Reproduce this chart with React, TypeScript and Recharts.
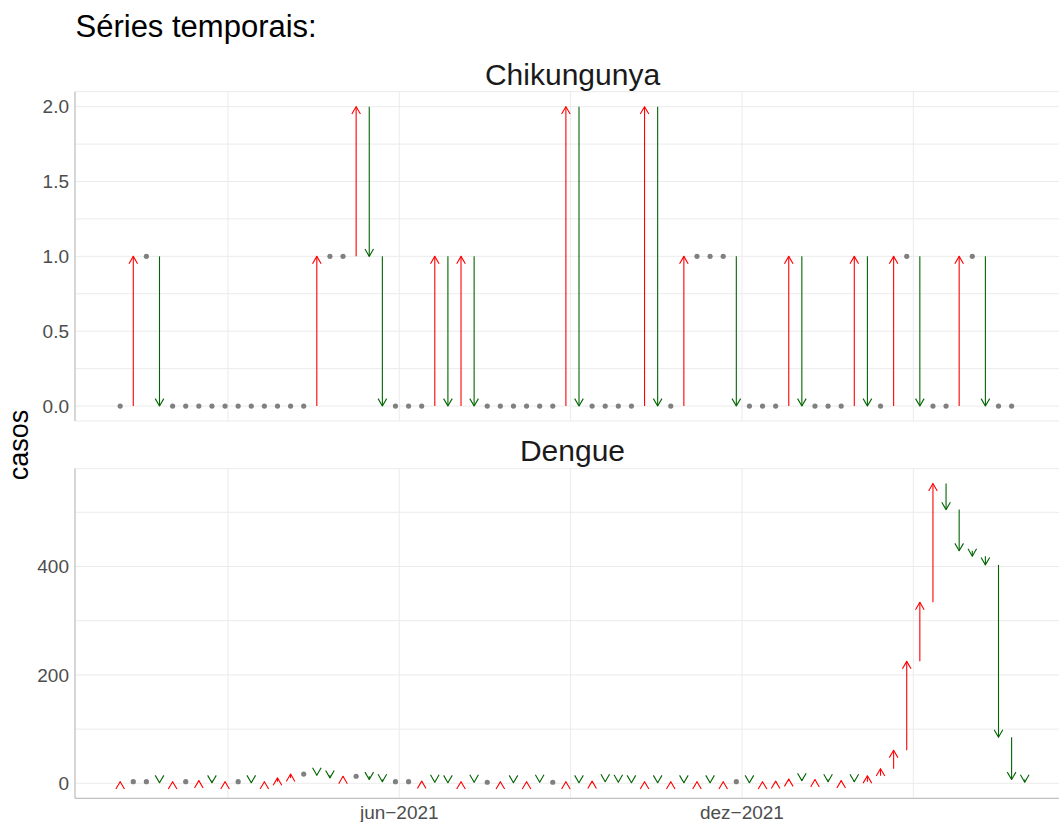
import React from 'react';
import { ComposedChart, Bar, XAxis, YAxis, CartesianGrid } from 'recharts';

// ---- data ----
const WEEKS: string[] = [
  '2021-01-03', '2021-01-10', '2021-01-17', '2021-01-24', '2021-01-31',
  '2021-02-07', '2021-02-14', '2021-02-21', '2021-02-28',
  '2021-03-07', '2021-03-14', '2021-03-21', '2021-03-28',
  '2021-04-04', '2021-04-11', '2021-04-18', '2021-04-25',
  '2021-05-02', '2021-05-09', '2021-05-16', '2021-05-23', '2021-05-30',
  '2021-06-06', '2021-06-13', '2021-06-20', '2021-06-27',
  '2021-07-04', '2021-07-11', '2021-07-18', '2021-07-25',
  '2021-08-01', '2021-08-08', '2021-08-15', '2021-08-22', '2021-08-29',
  '2021-09-05', '2021-09-12', '2021-09-19', '2021-09-26',
  '2021-10-03', '2021-10-10', '2021-10-17', '2021-10-24', '2021-10-31',
  '2021-11-07', '2021-11-14', '2021-11-21', '2021-11-28',
  '2021-12-05', '2021-12-12', '2021-12-19', '2021-12-26',
  '2022-01-02', '2022-01-09', '2022-01-16', '2022-01-23', '2022-01-30',
  '2022-02-06', '2022-02-13', '2022-02-20', '2022-02-27',
  '2022-03-06', '2022-03-13', '2022-03-20', '2022-03-27',
  '2022-04-03', '2022-04-10', '2022-04-17', '2022-04-24',
  '2022-05-01',
];

const CHIK_PREV_WEEK = 0;
const CHIK_CASES: number[] = [
  0, 1, 1, 0, 0, 0, 0, 0, 0, 0, 0, 0, 0, 0, 0,
  1, 1, 1, 2, 1, 0, 0, 0, 0, 1, 0, 1, 0,
  0, 0, 0, 0, 0, 0, 2, 0, 0, 0, 0, 0, 2, 0, 0,
  1, 1, 1, 1, 0, 0, 0, 0, 1, 0, 0, 0, 0, 1, 0, 0,
  1, 1, 0, 0, 0, 1, 1, 0, 0, 0,
];

const DENGUE_PREV_WEEK = 1;
const DENGUE_CASES: number[] = [
  3, 3, 3, 1, 3, 3, 5, 1, 3, 3,
  1, 3, 10, 17, 17, 15, 10, 13, 13, 7,
  3, 3, 3, 4, 2, 1, 3, 2, 2, 3,
  1, 3, 2, 2, 3, 1, 4, 3, 2, 1,
  3, 1, 3, 1, 3, 1, 3, 3, 1, 3,
  4, 8, 5, 7, 3, 5, 3, 14, 27, 61,
  225, 334, 553, 505, 429, 419, 403, 85, 7, 2,
];

const X_MAJOR_DATES = ['2021-06-01', '2021-12-01'];
const X_MAJOR_LABELS = ['jun\u22122021', 'dez\u22122021'];
const CHIK_Y_TICKS = [0, 0.5, 1, 1.5, 2];
const DENGUE_Y_TICKS = [0, 200, 400];

// ---- helpers ----
const FONT = '"Liberation Sans", Arial, Helvetica, sans-serif';
const UP_COLOR = '#FF0000';
const DOWN_COLOR = '#006400';
const SAME_COLOR = '#808080';
const GRID = '#ebebeb';
const AXIS_LINE = '#b8b8b8';
const TICK_TEXT = '#4d4d4d';

type Row = { t: number; value: number; prev: number; range: [number, number] };

function buildRows(values: number[], prev0: number): Row[] {
  return values.map((v, i) => {
    const p = i === 0 ? prev0 : values[i - 1];
    return { t: Date.parse(WEEKS[i]), value: v, prev: p, range: [Math.min(p, v), Math.max(p, v)] };
  });
}

const chikRows = buildRows(CHIK_CASES, CHIK_PREV_WEEK);
const dengueRows = buildRows(DENGUE_CASES, DENGUE_PREV_WEEK);

const tFirst = Date.parse(WEEKS[0]);
const tLast = Date.parse(WEEKS[WEEKS.length - 1]);
const tRange = tLast - tFirst;
const X_DOMAIN: [number, number] = [tFirst - 0.05 * tRange, tLast + 0.05 * tRange];
const xMajor = X_MAJOR_DATES.map((d) => Date.parse(d));
const xStep = xMajor[1] - xMajor[0];
const X_TICKS = [xMajor[0] - xStep / 2, xMajor[0], xMajor[0] + xStep / 2, xMajor[1], xMajor[1] + xStep / 2];
const xLabel = (v: number) => {
  const k = xMajor.indexOf(v);
  return k >= 0 ? X_MAJOR_LABELS[k] : '';
};
const noLabel = () => '';

function withMinor(major: number[], max: number): number[] {
  const out: number[] = [];
  const step = major[1] - major[0];
  major.forEach((m) => {
    out.push(m);
    if (m + step / 2 <= max) out.push(m + step / 2);
  });
  return out;
}

function rangeDomain(rows: Row[]): [number, number] {
  let lo = Infinity;
  let hi = -Infinity;
  rows.forEach((r) => {
    lo = Math.min(lo, r.range[0]);
    hi = Math.max(hi, r.range[1]);
  });
  lo = Math.min(lo, 0);
  const e = (hi - lo) * 0.05;
  return [lo - e, hi + e];
}

const chikDomain = rangeDomain(chikRows);
const dengueDomain = rangeDomain(dengueRows);
const chikYTicks = withMinor(CHIK_Y_TICKS, chikDomain[1]);
const dengueYTicks = withMinor(DENGUE_Y_TICKS, dengueDomain[1]);

const ArrowShape = (props: any) => {
  const { x, y, width, height, payload } = props;
  if (!payload || x == null || y == null || isNaN(x) || isNaN(y)) return null;
  const cx = x + (width || 0) / 2;
  const h = Math.abs(height || 0);
  const top = (height || 0) >= 0 ? y : y + height;
  if (payload.value === payload.prev) {
    return <circle cx={cx} cy={top} r={2.6} fill={SAME_COLOR} />;
  }
  const up = payload.value > payload.prev;
  const color = up ? UP_COLOR : DOWN_COLOR;
  const tipY = up ? top : top + h;
  const tailY = up ? top + h : top;
  const s = up ? 1 : -1;
  const hx = 4.3;
  const hy = 7.4;
  return (
    <g>
      <line x1={cx} y1={tailY} x2={cx} y2={tipY} stroke={color} strokeWidth={1.1} />
      <polyline
        points={`${cx - hx},${tipY + s * hy} ${cx},${tipY} ${cx + hx},${tipY + s * hy}`}
        fill="none"
        stroke={color}
        strokeWidth={1.1}
        strokeLinejoin="round"
      />
    </g>
  );
};

const tickStyle = { fill: TICK_TEXT, fontSize: 19 };

function Panel(props: {
  rows: Row[];
  domain: [number, number];
  yTicks: number[];
  yLabels: number[];
  yFmt: (v: number) => string;
  top: number;
  height: number;
  marginTop: number;
  marginBottom: number;
  xAxisHeight: number;
  showX: boolean;
}) {
  const { rows, domain, yTicks, yLabels, yFmt } = props;
  return (
    <div style={{ position: 'absolute', left: 0, top: props.top }}>
      <ComposedChart
        width={1070}
        height={props.height}
        data={rows}
        margin={{ top: props.marginTop, right: 0, bottom: props.marginBottom, left: 0 }}
      >
        <CartesianGrid stroke={GRID} strokeWidth={1} />
        <XAxis
          dataKey="t"
          type="number"
          domain={X_DOMAIN}
          allowDataOverflow
          ticks={X_TICKS}
          interval={0}
          tickFormatter={props.showX ? xLabel : noLabel}
          height={props.xAxisHeight}
          tick={tickStyle}
          tickLine={false}
          tickSize={5}
          tickMargin={2}
          axisLine={{ stroke: AXIS_LINE, strokeWidth: 1 }}
        />
        <YAxis
          type="number"
          domain={domain}
          allowDataOverflow
          ticks={yTicks}
          interval={0}
          tickFormatter={(v: number) => (yLabels.indexOf(v) >= 0 ? yFmt(v) : '')}
          width={75}
          tick={tickStyle}
          tickLine={false}
          tickSize={4}
          tickMargin={2}
          axisLine={{ stroke: AXIS_LINE, strokeWidth: 1 }}
        />
        <Bar dataKey="range" barSize={3} shape={ArrowShape} isAnimationActive={false} />
      </ComposedChart>
    </div>
  );
}

export default function App() {
  return (
    <div
      style={{
        position: 'absolute',
        left: 0,
        top: 0,
        width: 1059,
        height: 822,
        overflow: 'hidden',
        background: '#ffffff',
        fontFamily: FONT,
      }}
    >
      <Panel
        rows={chikRows}
        domain={chikDomain}
        yTicks={chikYTicks}
        yLabels={CHIK_Y_TICKS}
        yFmt={(v) => v.toFixed(1)}
        top={0}
        height={423}
        marginTop={91.7}
        marginBottom={2}
        xAxisHeight={0}
        showX={false}
      />
      <Panel
        rows={dengueRows}
        domain={dengueDomain}
        yTicks={dengueYTicks}
        yLabels={DENGUE_Y_TICKS}
        yFmt={(v) => String(v)}
        top={421}
        height={407.3}
        marginTop={47.6}
        marginBottom={0}
        xAxisHeight={30}
        showX={true}
      />
      <svg
        width={1059}
        height={822}
        style={{ position: 'absolute', left: 0, top: 0, pointerEvents: 'none', fontFamily: FONT }}
      >
        <text x={75.5} y={37.3} fontSize={31} fill="#000000">
          Séries temporais:
        </text>
        <text x={572.5} y={84.5} fontSize={30} fill="#1a1a1a" textAnchor="middle">
          Chikungunya
        </text>
        <text x={572.5} y={461} fontSize={30} fill="#1a1a1a" textAnchor="middle">
          Dengue
        </text>
        <text x={0} y={0} fontSize={27} fill="#000000" textAnchor="middle" transform="translate(28,445) rotate(-90)">
          casos
        </text>
      </svg>
    </div>
  );
}
